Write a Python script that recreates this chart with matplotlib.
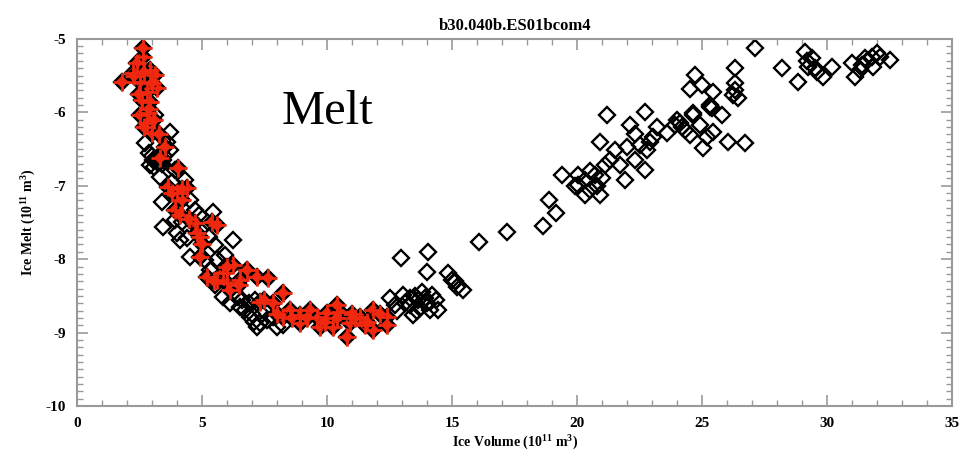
import matplotlib.pyplot as plt
from matplotlib.ticker import MultipleLocator

plt.rcParams['font.family'] = ['Liberation Serif', 'DejaVu Serif']
plt.rcParams['font.weight'] = 'bold'
plt.rcParams['mathtext.fontset'] = 'custom'
plt.rcParams['mathtext.rm'] = 'Liberation Serif:bold'
plt.rcParams['axes.unicode_minus'] = False

# volumen de hielo / fusion de hielo (10^11 m^3), todos los años
vol_negro = [3.72, 3.04, 3.24, 3.44, 2.92, 3.32, 3.40, 3.44, 4.00, 4.40, 5.44, 6.24,
             4.52, 5.32, 5.84, 6.40, 6.52, 6.92, 7.32, 7.60, 7.84, 8.00, 7.20, 8.24,
             3.72, 3.92, 4.32, 4.52, 4.72, 4.92, 5.52, 5.12, 5.92, 5.52, 6.12, 6.72,
             7.12, 3.92, 4.12, 2.72, 3.12,
             3.00, 3.20, 3.40, 3.10, 3.50, 2.90, 3.60, 3.80, 4.20, 4.60, 4.90, 5.30,
             5.60, 5.90, 6.30, 6.60, 6.90, 7.00, 7.40, 7.10,
             12.96, 14.04, 14.00, 14.84, 15.00, 15.20, 15.44, 13.04, 13.32, 13.64,
             13.92, 14.20, 14.36, 14.12, 13.72, 13.32, 14.44, 13.44, 12.72, 12.52,
             13.50, 13.80, 14.00, 13.60, 13.10, 12.80, 15.10,
             16.08, 17.20, 18.64, 18.88, 19.16, 19.40, 20.04, 20.32, 20.52, 20.72,
             20.92, 20.32, 20.04, 21.20, 20.92, 21.32, 22.00, 22.12, 22.72, 22.80,
             22.72, 23.04, 21.72, 22.32, 23.60, 24.12, 24.64, 25.04, 25.20, 25.32,
             24.72, 25.00, 24.52, 25.44, 25.40, 25.80, 26.32, 26.32, 26.44, 26.24,
             24.64, 24.92, 25.44, 26.04, 26.72, 24.52, 27.12, 28.20, 28.84, 29.12,
             29.24, 29.60, 29.84, 30.20, 31.00, 31.12, 31.52, 31.84, 32.00, 32.52,
             31.32, 29.40, 23.92, 24.32, 21.12, 21.52, 22.52, 21.92,
             20.50, 21.00, 20.80, 19.90, 22.30, 22.90, 23.20, 24.00, 24.20, 25.30,
             26.30, 29.20, 29.50, 31.60, 31.80, 31.40, 32.10]
melt_negro = [-6.27, -6.65, -6.69, -6.65, -6.72, -6.88, -7.22, -7.56, -7.64, -7.71, -7.36, -7.74,
              -7.97, -8.15, -8.51, -8.51, -8.65, -8.79, -8.87, -8.83, -8.79, -8.92, -8.92, -8.90,
              -6.51, -6.78, -6.92, -7.19, -7.33, -7.60, -7.81, -8.01, -7.94, -8.35, -8.60, -8.69,
              -8.56, -7.47, -7.74, -6.42, -6.04,
              -6.60, -6.62, -6.70, -6.75, -6.60, -6.55, -6.40, -6.95, -7.50, -7.50, -7.40, -7.70,
              -8.00, -8.30, -8.45, -8.55, -8.60, -8.75, -8.75, -8.85,
              -7.98, -7.90, -8.17, -8.19, -8.28, -8.38, -8.42, -8.49, -8.53, -8.56,
              -8.53, -8.49, -8.56, -8.69, -8.66, -8.62, -8.69, -8.76, -8.62, -8.53,
              -8.50, -8.45, -8.60, -8.70, -8.60, -8.70, -8.30,
              -7.77, -7.63, -7.55, -7.19, -7.37, -6.85, -6.85, -6.92, -7.06, -6.85,
              -7.13, -7.13, -6.99, -6.04, -6.40, -6.65, -6.47, -6.17, -6.78, -6.51,
              -5.99, -6.34, -6.72, -6.65, -6.28, -6.14, -6.01, -6.49, -6.34, -5.93,
              -5.49, -5.63, -5.69, -5.72, -5.94, -6.04, -5.40, -5.60, -5.80, -5.76,
              -6.04, -6.17, -6.27, -6.40, -6.42, -6.31, -5.12, -5.40, -5.59, -5.18,
              -5.38, -5.45, -5.52, -5.38, -5.33, -5.52, -5.26, -5.38, -5.19, -5.29,
              -5.42, -5.26, -6.17, -6.24, -6.72, -6.51, -6.44, -6.92,
              -6.80, -6.90, -7.00, -7.00, -6.30, -6.40, -6.20, -6.10, -6.20, -5.90,
              -5.70, -5.30, -5.40, -5.30, -5.25, -5.35, -5.25]

# años de fusion (marcados en rojo)
vol_rojo = [2.64, 2.40, 2.92, 2.24, 1.80, 2.52, 3.20, 2.80, 2.60, 2.92, 2.52, 2.84,
            2.80, 3.00, 3.52, 3.32, 4.04, 3.64, 4.40, 4.00, 3.92, 4.12, 4.72, 5.40,
            5.60, 4.80, 4.92, 5.20, 5.84, 6.24, 6.00, 6.80, 7.20, 7.64, 7.32, 7.84,
            8.24, 8.24, 8.92, 9.60, 10.00, 10.52, 10.92, 10.80, 11.32, 11.84, 11.84,
            12.40, 12.40, 9.72, 10.24, 8.92, 4.92, 5.60, 8.52, 9.32, 10.40, 11.52,
            11.12, 6.12, 6.52, 2.64, 3.12,
            2.30, 2.70, 3.00, 2.50, 2.90, 2.70, 3.10, 3.80, 4.20, 4.50, 5.00, 5.50,
            6.00, 6.50, 7.50, 8.00, 8.60, 9.20, 9.90, 10.40, 11.00, 11.60, 12.10,
            3.30, 4.20]
melt_rojo = [-5.25, -5.33, -5.42, -5.46, -5.59, -5.59, -5.67, -5.72, -5.83, -5.86, -6.04, -6.01,
             -6.14, -6.28, -6.47, -6.62, -6.76, -7.02, -7.03, -7.10, -7.33, -7.40, -7.51, -7.49,
             -7.53, -7.64, -7.97, -8.24, -8.19, -8.08, -8.32, -8.15, -8.24, -8.26, -8.58, -8.60,
             -8.46, -8.79, -8.76, -8.79, -8.73, -8.72, -8.87, -9.06, -8.79, -8.69, -8.96,
             -8.79, -8.90, -8.92, -8.92, -8.87, -7.70, -8.28, -8.69, -8.69, -8.62, -8.90,
             -8.80, -8.42, -8.28, -5.12, -5.49,
             -5.50, -5.45, -5.60, -5.75, -5.95, -6.20, -6.10, -7.10, -7.20, -7.45, -7.80, -8.30,
             -8.10, -8.35, -8.55, -8.75, -8.80, -8.80, -8.85, -8.80, -8.75, -8.85, -8.75,
             -6.30, -7.05]

fig = plt.figure(figsize=(9.61, 4.62), dpi=100)
ax = fig.add_axes([0.080, 0.121, 0.911, 0.795])

ax.plot(vol_negro, melt_negro, linestyle='none', marker='D', ms=8.5,
        mfc='none', mec='black', mew=1.7)
ax.plot(vol_rojo, melt_rojo, linestyle='none', marker='D', ms=8.5,
        mfc='#f0280f', mec='black', mew=1.7)
ax.plot(vol_rojo, melt_rojo, linestyle='none', marker='+', ms=13,
        mec='#f0280f', mew=2)

ax.text(10.0, -6.0, 'Melt', fontsize=35, fontweight='normal',
        ha='center', va='center')

ax.set_xlim(0, 35)
ax.set_ylim(-10, -5)
ax.xaxis.set_major_locator(MultipleLocator(5))
ax.xaxis.set_minor_locator(MultipleLocator(1))
ax.yaxis.set_major_locator(MultipleLocator(1))
ax.yaxis.set_minor_locator(MultipleLocator(0.1))
ax.tick_params(which='both', direction='in', top=True, right=True,
               color='0.6', labelsize=11)
ax.tick_params(which='major', length=8, width=1.2, pad=8)
ax.tick_params(which='minor', length=4, width=1)
for sp in ax.spines.values():
    sp.set_color('0.6')
    sp.set_linewidth(1.5)

ax.set_title('b30.040b.ES01bcom4', fontsize=12, fontweight='bold', pad=6)
ax.set_xlabel('Ice Volume (10$^{11}$ m$^3$)', fontsize=10, fontweight='bold', labelpad=1)
ax.set_ylabel('Ice Melt (10$^{11}$ m$^3$)', fontsize=10, fontweight='bold', labelpad=6)

fig.savefig('out.png', dpi=100)
